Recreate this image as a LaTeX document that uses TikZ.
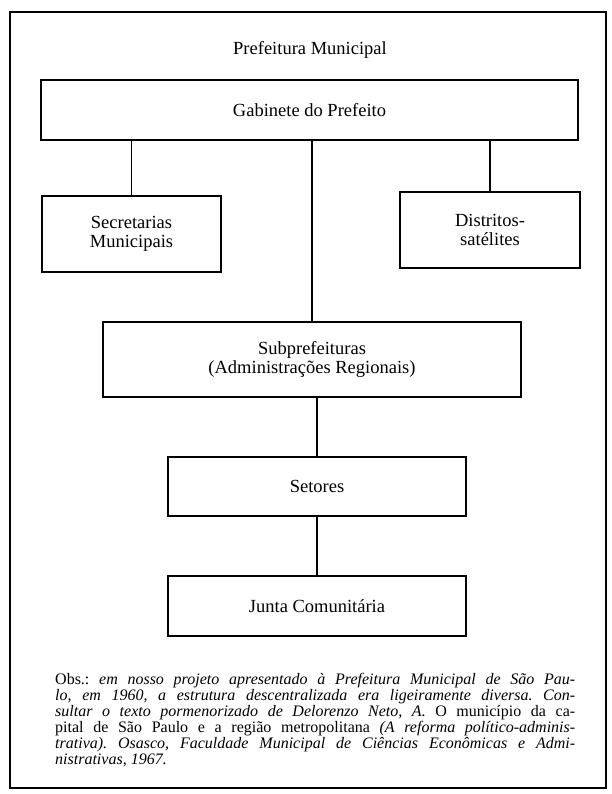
\documentclass[tikz,border=0pt]{standalone}
\usepackage{fontspec}
\setmainfont{Liberation Serif}
\usepackage{tikz}
\usetikzlibrary{positioning}
\tikzset{
  orgbox/.style={draw,line width=1.3pt,align=center,inner sep=2pt,font=\fontsize{18.5}{19}\selectfont},
  orglink/.style={line width=1.1pt}
}
\newcommand{\obsline}[1]{\makebox[520pt][s]{#1}}
\frenchspacing

\begin{document}
\begin{tikzpicture}[x=1pt,y=-1pt]
\useasboundingbox (0,0) rectangle (611,794);
\draw[line width=1.7pt] (10,12) rectangle (606,788);
\node[font=\fontsize{18.5}{19}\selectfont] (title) at (310,50) {Prefeitura Municipal};
\node[orgbox,minimum width=537pt,minimum height=60pt] (gab) at (309.5,110) {Gabinete do Prefeito};
\node[orgbox,minimum width=179pt,minimum height=76pt] (sec) at (131.5,234) {Secretarias\\Municipais};
\node[orgbox,minimum width=180pt,minimum height=76pt] (dis) at (490,230) {Distritos-\\satélites};
\node[orgbox,minimum width=418pt,minimum height=75pt] (sub) at (312,359.5) {Subprefeituras\\(Administrações Regionais)};
\node[orgbox,minimum width=298pt,minimum height=59pt] (set) at (317,486.5) {Setores};
\node[orgbox,minimum width=298pt,minimum height=60pt] (jun) at (317,606) {Junta Comunitária};
\draw[orglink] (sec.north) -- (sec.north |- gab.south);
\draw[orglink] (dis.north) -- (dis.north |- gab.south);
\draw[orglink] (sub.north) -- (sub.north |- gab.south);
\draw[orglink] (set.north) -- (set.north |- sub.south);
\draw[orglink] (jun.north) -- (jun.north |- set.south);
% observation below the chart
\node[anchor=north west,inner sep=0pt,align=left,font=\fontsize{16}{16}\selectfont] (obs) at (55,673) {%
\obsline{Obs.: \textit{em nosso projeto apresentado à Prefeitura Municipal de São Pau-}}\\
\obsline{\textit{lo, em 1960, a estrutura descentralizada era ligeiramente diversa. Con-}}\\
\obsline{\textit{sultar o texto pormenorizado de Delorenzo Neto, A.} O município da ca-}\\
\obsline{pital de São Paulo e a região metropolitana \textit{(A reforma político-adminis-}}\\
\obsline{\textit{trativa). Osasco, Faculdade Municipal de Ciências Econômicas e Admi-}}\\
\textit{nistrativas, 1967.}};
\end{tikzpicture}
\end{document}
